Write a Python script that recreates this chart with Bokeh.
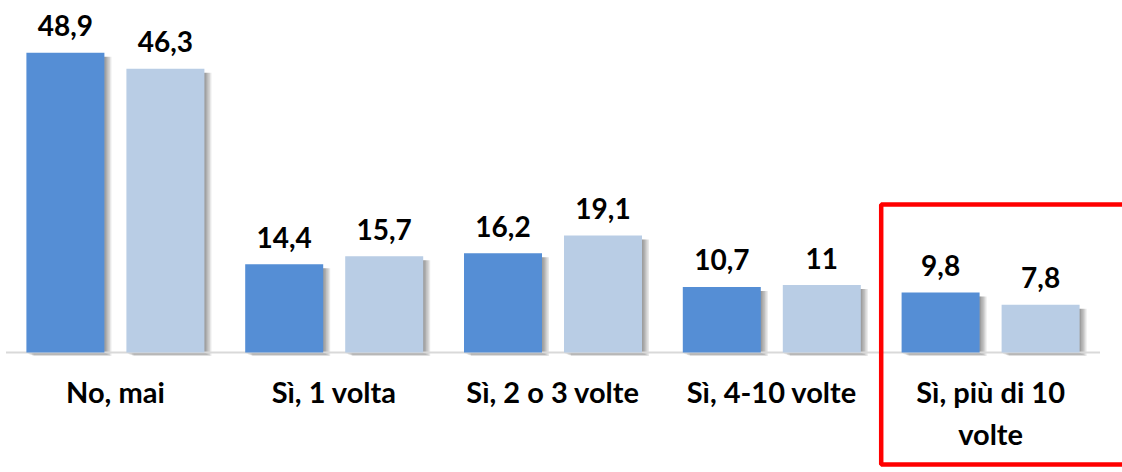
from bokeh.plotting import figure
from bokeh.models import Range1d, ColumnDataSource
from bokeh.core.properties import value
from bokeh.embed import file_html
from bokeh.resources import INLINE

categories = ["No, mai", "Sì, 1 volta", "Sì, 2 o 3 volte", "Sì, 4-10 volte", "Sì, più di 10\nvolte"]
series_a = [48.9, 14.4, 16.2, 10.7, 9.8]
series_b = [46.3, 15.7, 19.1, 11.0, 7.8]
labels_a = ["48,9", "14,4", "16,2", "10,7", "9,8"]
labels_b = ["46,3", "15,7", "19,1", "11", "7,8"]
highlight_index = 4

DARK = "#558ED5"
LIGHT = "#B9CDE5"
FONT = value("Lato")

PX_X = 218.8   # px per category unit
PX_Y = 6.13    # px per value unit
W, H = 1122, 472
X0, Y0 = 5.5, 352  # screen position of data origin

p = figure(width=W, height=H, output_backend="svg", toolbar_location=None,
           x_range=Range1d(-X0 / PX_X, (W - X0) / PX_X),
           y_range=Range1d(-(H - Y0) / PX_Y, Y0 / PX_Y),
           min_border=0, min_border_left=0, min_border_right=0,
           min_border_top=0, min_border_bottom=0)
p.axis.visible = False
p.grid.visible = False
p.outline_line_color = None
p.background_fill_color = "white"

centers = [i + 0.5 for i in range(len(categories))]
off = 50 / PX_X
bw = 78 / PX_X
xa = [c - off for c in centers]
xb = [c + off for c in centers]

src = ColumnDataSource(dict(xa=xa, xb=xb, a=series_a, b=series_b,
                            la=labels_a, lb=labels_b, c=centers, cat=categories,
                            zero=[0] * len(categories)))

# shadows
for k in (1, 2, 3, 4, 5):
    dx = (1.4 * k) / PX_X
    for xs, vals in ((xa, series_a), (xb, series_b)):
        p.vbar(x=[x + dx for x in xs], width=bw,
               top=[v - 4 / PX_Y for v in vals], bottom=-(1.0 + 0.5 * k) / PX_Y,
               fill_color="black", fill_alpha=0.09, line_color=None)

# baseline
p.segment(x0=[0], x1=[len(categories)], y0=[0], y1=[0], line_color="#D9D9D9", line_width=2)

p.vbar(x="xa", top="a", bottom=0, width=bw, source=src, fill_color=DARK, line_color=None)
p.vbar(x="xb", top="b", bottom=0, width=bw, source=src, fill_color=LIGHT, line_color=None)

p.text(x="xa", y="a", y_offset=-27, text="la", source=src, text_font=FONT,
       text_font_style="bold", text_font_size="28px", text_align="center",
       text_baseline="alphabetic", text_color="black")
p.text(x="xb", y="b", y_offset=-27, text="lb", source=src, text_font=FONT,
       text_font_style="bold", text_font_size="28px", text_align="center",
       text_baseline="alphabetic", text_color="black")

p.text(x="c", y="zero", y_offset=21, text="cat", source=src, text_font=FONT,
       text_font_style="bold", text_font_size="29px", text_align="center",
       text_baseline="top", text_line_height=1.2, text_color="black")

# highlight box
p.quad(left=[highlight_index], right=[len(categories) + 0.4], top=[(Y0 - 204) / PX_Y],
       bottom=[-(464 - Y0) / PX_Y], fill_alpha=0, line_color="#FF0000", line_width=4.5)

open("out.html", "w").write(file_html(p, INLINE))
